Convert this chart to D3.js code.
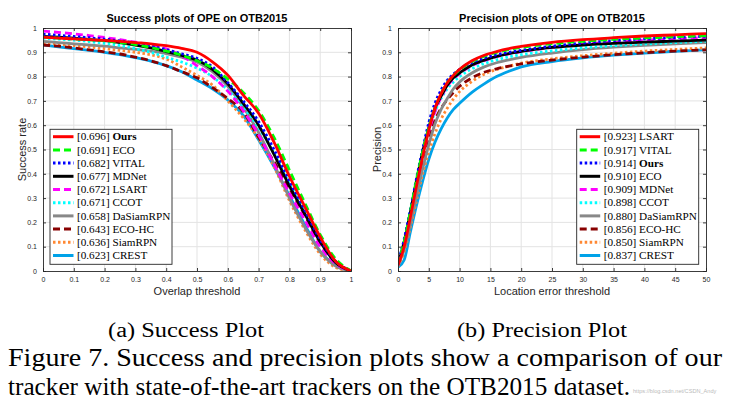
<!DOCTYPE html>
<html><head><meta charset="utf-8">
<script src="https://cdn.jsdelivr.net/npm/d3@7/dist/d3.min.js"></script>
<style>body{margin:0;background:#fff}</style>
</head><body>
<svg id="c" width="732" height="410"></svg>
<script>
// ---------- data ----------
const overlapThresholds = [0,0.05,0.1,0.15,0.2,0.25,0.3,0.35,0.4,0.45,0.5,0.55,0.6,0.65,0.7,0.75,0.8,0.85,0.9,0.95,1];
const succNames  = ["Ours","ECO","VITAL","MDNet","LSART","CCOT","DaSiamRPN","ECO-HC","SiamRPN","CREST"];
const succScores = [0.696,0.691,0.682,0.677,0.672,0.671,0.658,0.643,0.636,0.623];
const succOurs    = [0.962,0.958,0.955,0.952,0.949,0.945,0.94,0.935,0.927,0.916,0.9,0.861,0.806,0.724,0.649,0.53,0.39,0.265,0.14,0.04,0];
const succECO     = [0.962,0.958,0.955,0.951,0.947,0.94,0.932,0.92,0.905,0.888,0.865,0.835,0.79,0.735,0.66,0.55,0.415,0.28,0.15,0.05,0];
const succVITAL   = [0.975,0.97,0.965,0.96,0.954,0.947,0.938,0.926,0.911,0.894,0.875,0.84,0.775,0.7,0.615,0.5,0.37,0.25,0.13,0.04,0];
const succMDNet   = [0.965,0.962,0.958,0.953,0.948,0.94,0.93,0.918,0.903,0.887,0.868,0.83,0.77,0.69,0.6,0.48,0.35,0.235,0.12,0.035,0];
const succLSART   = [0.987,0.982,0.976,0.969,0.961,0.952,0.942,0.93,0.914,0.885,0.845,0.8,0.74,0.66,0.56,0.44,0.32,0.21,0.1,0.03,0];
const succCCOT    = [0.958,0.954,0.95,0.944,0.937,0.928,0.915,0.9,0.88,0.86,0.835,0.8,0.745,0.675,0.59,0.485,0.36,0.25,0.13,0.04,0];
const succDaSiam  = [0.945,0.94,0.935,0.93,0.925,0.918,0.912,0.905,0.895,0.88,0.86,0.82,0.76,0.675,0.57,0.44,0.3,0.18,0.08,0.02,0];
const succECOHC   = [0.93,0.925,0.918,0.91,0.902,0.893,0.88,0.865,0.845,0.82,0.795,0.755,0.71,0.655,0.55,0.45,0.34,0.23,0.115,0.035,0];
const succSiamRPN = [0.937,0.933,0.928,0.922,0.915,0.908,0.9,0.89,0.872,0.84,0.805,0.765,0.7,0.63,0.545,0.43,0.29,0.17,0.07,0.015,0];
const succCREST   = [0.93,0.922,0.915,0.908,0.9,0.89,0.878,0.864,0.845,0.82,0.786,0.75,0.704,0.64,0.54,0.43,0.31,0.19,0.08,0.025,0];
const succSeries = [succOurs,succECO,succVITAL,succMDNet,succLSART,succCCOT,succDaSiam,succECOHC,succSiamRPN,succCREST];

const errorThresholds = [0,1,2,3,4,5,6,7,8,9,10,12,14,16,18,20,25,30,35,40,45,50];
const precNames  = ["LSART","VITAL","Ours","ECO","MDNet","CCOT","DaSiamRPN","ECO-HC","SiamRPN","CREST"];
const precScores = [0.923,0.917,0.914,0.910,0.909,0.898,0.880,0.856,0.850,0.837];
const precLSART   = [0.025,0.1,0.22,0.35,0.47,0.58,0.67,0.73,0.775,0.805,0.83,0.865,0.888,0.903,0.915,0.924,0.941,0.952,0.96,0.967,0.972,0.977];
const precVITAL   = [0.03,0.12,0.245,0.375,0.49,0.59,0.67,0.73,0.775,0.805,0.828,0.862,0.884,0.9,0.911,0.92,0.935,0.945,0.953,0.959,0.964,0.968];
const precOurs    = [0.03,0.13,0.25,0.38,0.5,0.61,0.69,0.745,0.785,0.81,0.83,0.858,0.876,0.89,0.9,0.908,0.925,0.938,0.948,0.955,0.961,0.966];
const precECO     = [0.028,0.12,0.24,0.37,0.49,0.59,0.67,0.72,0.765,0.795,0.815,0.848,0.868,0.883,0.895,0.904,0.92,0.93,0.937,0.942,0.946,0.95];
const precMDNet   = [0.025,0.11,0.23,0.36,0.475,0.575,0.655,0.715,0.76,0.79,0.812,0.845,0.866,0.882,0.894,0.903,0.92,0.933,0.943,0.95,0.956,0.96];
const precCCOT    = [0.03,0.125,0.245,0.37,0.485,0.58,0.655,0.71,0.75,0.778,0.8,0.832,0.854,0.869,0.881,0.89,0.906,0.918,0.927,0.934,0.94,0.945];
const precDaSiam  = [0.02,0.09,0.19,0.31,0.42,0.52,0.605,0.665,0.71,0.75,0.778,0.815,0.84,0.857,0.869,0.879,0.897,0.911,0.921,0.929,0.935,0.94];
const precECOHC   = [0.025,0.1,0.21,0.33,0.45,0.55,0.62,0.67,0.705,0.735,0.76,0.795,0.818,0.832,0.843,0.852,0.868,0.88,0.89,0.898,0.905,0.91];
const precSiamRPN = [0.02,0.08,0.18,0.29,0.4,0.49,0.565,0.625,0.67,0.708,0.738,0.78,0.81,0.829,0.843,0.855,0.873,0.886,0.896,0.905,0.912,0.918];
const precCREST   = [0.015,0.045,0.16,0.27,0.37,0.46,0.53,0.585,0.63,0.665,0.69,0.735,0.77,0.8,0.822,0.84,0.862,0.877,0.888,0.897,0.904,0.91];
const precSeries = [precLSART,precVITAL,precOurs,precECO,precMDNet,precCCOT,precDaSiam,precECOHC,precSiamRPN,precCREST];

const overlapTicks = [0,0.1,0.2,0.3,0.4,0.5,0.6,0.7,0.8,0.9,1];
const errorTicks = [0,5,10,15,20,25,30,35,40,45,50];
const rateTicks = [0,0.1,0.2,0.3,0.4,0.5,0.6,0.7,0.8,0.9,1];

// ---------- styles by rank ----------
const rankStyles = [
  {c:"#ff0000", d:null},
  {c:"#00ff00", d:"7,4"},
  {c:"#0000ff", d:"2.5,2.5"},
  {c:"#000000", d:null},
  {c:"#ff00ff", d:"7,4"},
  {c:"#00ffff", d:"2.5,2.5"},
  {c:"#888888", d:null},
  {c:"#880000", d:"7,4"},
  {c:"#ff8833", d:"2.5,2.5"},
  {c:"#00a2e8", d:null}
];

const svg = d3.select("#c");
const axisCol = "#262626";
const sans = "'Liberation Sans', Arial, Helvetica, sans-serif";
const serif = "'Liberation Serif', 'Times New Roman', Times, serif";

function fmt(v){ return v===0?"0":(v===1?"1":String(v)); }

function drawPlot(o){
  const x = d3.scaleLinear().domain(o.xDomain).range([o.x0,o.x1]);
  const y = d3.scaleLinear().domain([0,1]).range([271,28]);
  const g = svg.append("g");
  // grid
  g.append("g").selectAll("line").data(o.xTicks.slice(1,-1)).join("line")
    .attr("x1",d=>x(d)).attr("x2",d=>x(d)).attr("y1",y(0)).attr("y2",y(1))
    .attr("stroke","#e3e3e3").attr("stroke-width",1);
  g.append("g").selectAll("line").data(rateTicks.slice(1,-1)).join("line")
    .attr("y1",d=>y(d)).attr("y2",d=>y(d)).attr("x1",o.x0).attr("x2",o.x1)
    .attr("stroke","#e3e3e3").attr("stroke-width",1);
  // clip
  const cid = "clip"+o.id;
  svg.append("clipPath").attr("id",cid).append("rect")
    .attr("x",o.x0).attr("y",26).attr("width",o.x1-o.x0).attr("height",246);
  const line = d3.line().x((d,i)=>x(o.thr[i])).y(d=>y(d)).curve(d3.curveMonotoneX);
  const lg = g.append("g").attr("clip-path",`url(#${cid})`);
  for(let i=o.series.length-1;i>=0;i--){
    const st = rankStyles[i];
    lg.append("path").attr("d",line(o.series[i])).attr("fill","none")
      .attr("stroke",st.c).attr("stroke-width",2.8)
      .attr("stroke-dasharray",st.d).attr("stroke-linejoin","round");
  }
  // axes (inward ticks, box)
  const ax = g.append("g").attr("class","ax");
  ax.append("g").attr("transform","translate(0,271)")
    .call(d3.axisBottom(x).tickValues(o.xTicks).tickSize(-3).tickPadding(6).tickFormat(fmt));
  ax.append("g").attr("transform","translate(0,28)")
    .call(d3.axisTop(x).tickValues(o.xTicks).tickSize(-3).tickFormat(""));
  ax.append("g").attr("transform",`translate(${o.x0},0)`)
    .call(d3.axisLeft(y).tickValues(rateTicks).tickSize(-3).tickPadding(6).tickFormat(fmt));
  ax.append("g").attr("transform",`translate(${o.x1},0)`)
    .call(d3.axisRight(y).tickValues(rateTicks).tickSize(-3).tickFormat(""));
  ax.selectAll("path.domain").attr("stroke",axisCol).attr("stroke-width",0.9);
  ax.selectAll(".tick line").attr("stroke",axisCol).attr("stroke-width",0.9);
  ax.selectAll(".tick text").attr("font-family",sans)
    .attr("font-size",7).attr("fill",axisCol);
  // title
  g.append("text").attr("x",(o.x0+o.x1)/2).attr("y",22).attr("text-anchor","middle")
    .attr("font-family",sans).attr("font-weight","bold")
    .attr("font-size",11).attr("fill","#000").text(o.title);
  g.append("text").attr("x",(o.x0+o.x1)/2).attr("y",295).attr("text-anchor","middle")
    .attr("font-family",sans)
    .attr("font-size",11).attr("fill",axisCol).text(o.xLabel);
  g.append("text").attr("transform",`translate(${o.yLabelX},149.5) rotate(-90)`).attr("text-anchor","middle")
    .attr("font-family",sans)
    .attr("font-size",11).attr("fill",axisCol).text(o.yLabel);
  // legend
  const L = g.append("g");
  L.append("rect").attr("x",o.lx).attr("y",129.3).attr("width",122).attr("height",135)
    .attr("fill","#fff").attr("stroke",axisCol).attr("stroke-width",0.9);
  o.names.forEach((n,i)=>{
    const cy = 136.7 + i*13.2;
    const st = rankStyles[i];
    L.append("line").attr("x1",o.lx+3).attr("x2",o.lx+23.5).attr("y1",cy).attr("y2",cy)
      .attr("stroke",st.c).attr("stroke-width",3).attr("stroke-dasharray",st.d);
    const t = L.append("text").attr("x",o.lx+27).attr("y",cy+3.6)
      .attr("font-family",serif).attr("font-size",11.2).attr("fill","#000");
    t.append("tspan").text(`[${o.scores[i].toFixed(3)}] `);
    t.append("tspan").attr("font-weight",n==="Ours"?"bold":"normal").text(n);
  });
}

drawPlot({id:"a", xDomain:[0,1], x0:43, x1:351, thr:overlapThresholds, xTicks:overlapTicks,
  series:succSeries, names:succNames, scores:succScores, lx:50,
  title:"Success plots of OPE on OTB2015", xLabel:"Overlap threshold", yLabel:"Success rate", yLabelX:25.5});
drawPlot({id:"b", xDomain:[0,50], x0:398, x1:706, thr:errorThresholds, xTicks:errorTicks,
  series:precSeries, names:precNames, scores:precScores, lx:576.7,
  title:"Precision plots of OPE on OTB2015", xLabel:"Location error threshold", yLabel:"Precision", yLabelX:381});

// captions
function cap(txt,x,yb,size,len){
  svg.append("text").attr("x",x).attr("y",yb).attr("font-family",serif).attr("font-size",size)
    .attr("fill","#000").attr("textLength",len).attr("lengthAdjust","spacingAndGlyphs").text(txt);
}
cap("(a)  Success Plot",108,337,20,156);
cap("(b)  Precision Plot",457,337,20,170);
cap("Figure 7. Success and precision plots show a comparison of our",8,366,25,714);
cap("tracker with state-of-the-art trackers on the OTB2015 dataset.",8,395,25,622);
svg.append("text").attr("x",633).attr("y",393).attr("font-family",sans)
  .attr("font-size",5.6).attr("fill","#bbbbbb").text("https://blog.csdn.net/CSDN_Andy");
</script>
</body></html>
